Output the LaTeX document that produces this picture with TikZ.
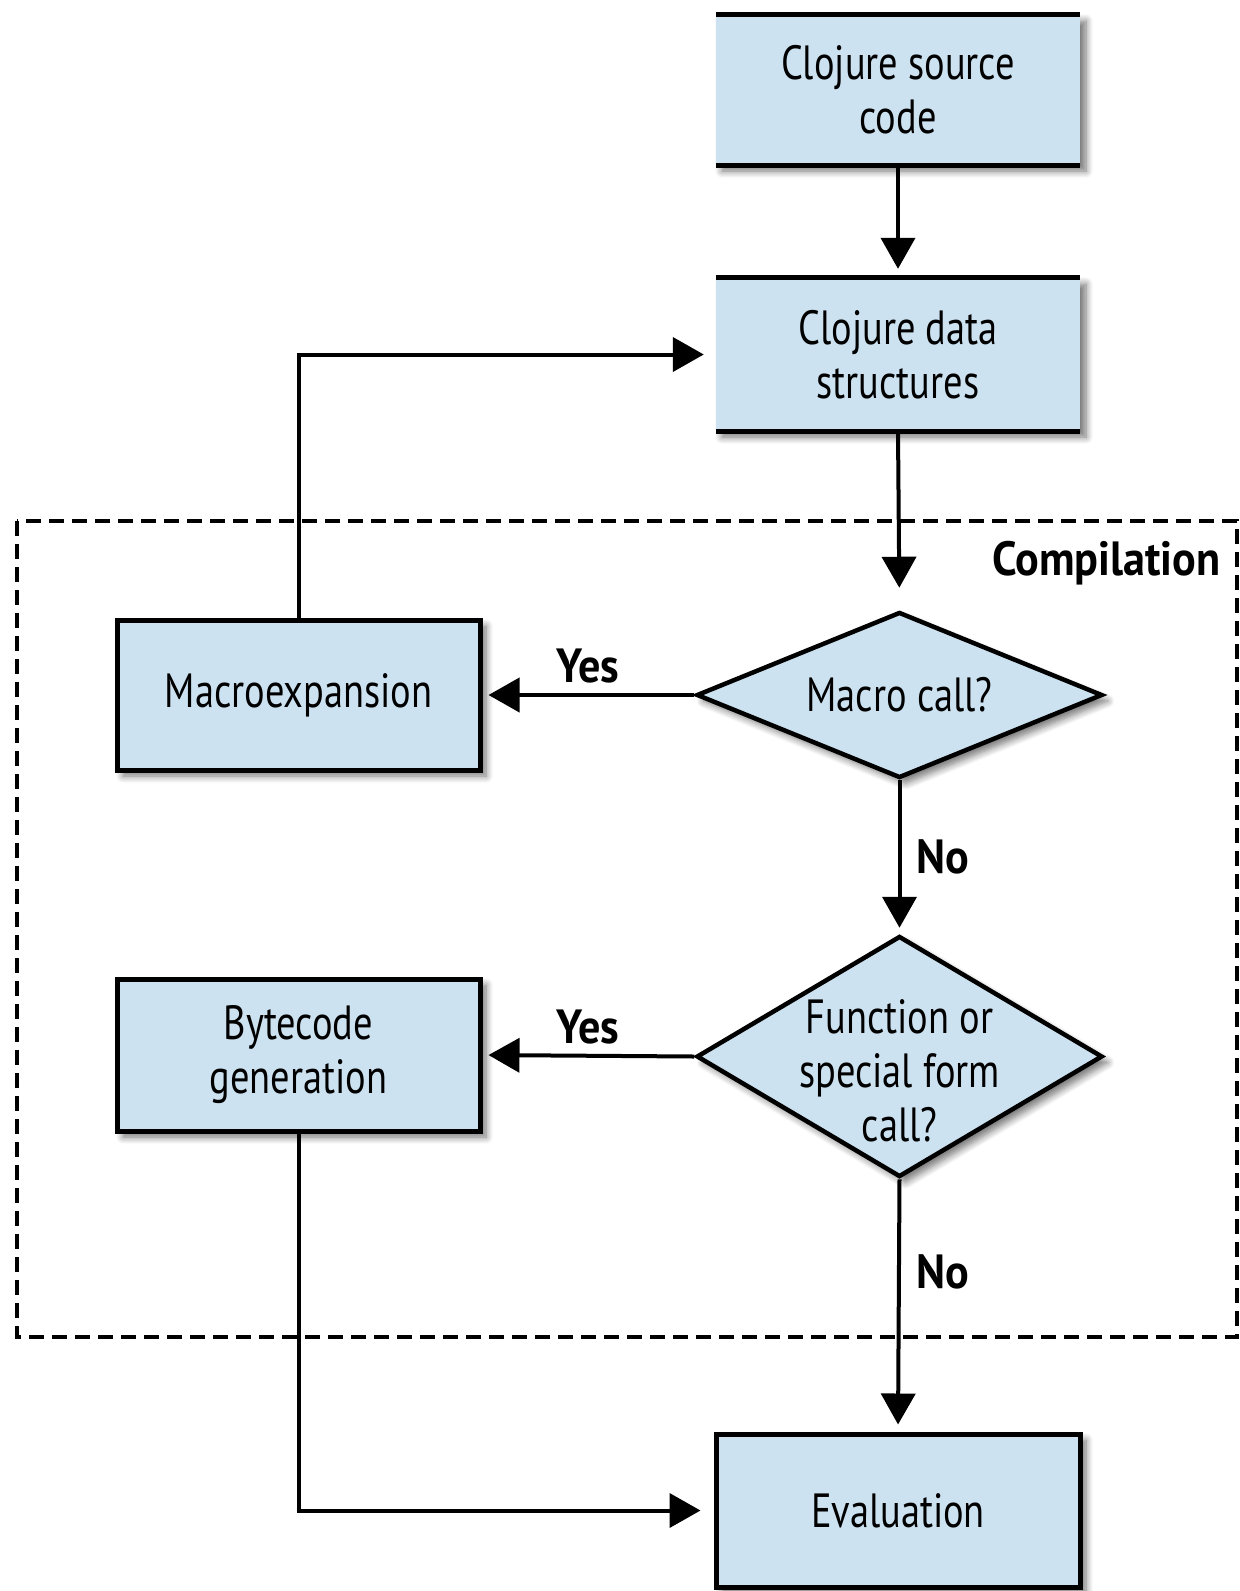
\documentclass[tikz,border=0pt]{standalone}
\usepackage{fontspec}
\setmainfont[FakeStretch=0.8]{PT Sans}
\newfontfamily\lblfont[FakeStretch=0.92]{PT Sans}
\usetikzlibrary{arrows.meta,shapes.geometric,shadows.blur}
\definecolor{boxblue}{RGB}{204,226,240}
\begin{document}
\begin{tikzpicture}[x=1pt,y=-1pt,
  txt/.style={font=\fontsize{48}{54}\selectfont, align=center},
  lbl/.style={font=\lblfont\bfseries\fontsize{48}{54}\selectfont},
  shadowed/.style={blur shadow={shadow xshift=6pt, shadow yshift=-6pt, shadow blur steps=8, shadow blur radius=7pt, shadow opacity=55}},
  openbox/.style={rectangle, fill=boxblue, shadowed, inner sep=0pt, minimum width=364pt},
  fullbox/.style={rectangle, fill=boxblue, draw=black, line width=5pt, shadowed, inner sep=0pt, minimum width=363pt},
  decision/.style={diamond, fill=boxblue, draw=black, line width=4.5pt, shadowed, inner sep=0pt, minimum width=406pt},
  edgeline/.style={line width=5pt},
  arr/.style={line width=4pt, -{Triangle[length=31pt,width=34pt]}},
  compbox/.style={line width=3.5pt, dash pattern=on 15pt off 8pt}
]
\useasboundingbox (0,0) rectangle (1240,1591);

% Compilation region
\draw[compbox] (17,521) rectangle (1237,1337);
\node[lbl, anchor=base east] (comp) at (1224,575) {Compilation};

% Top boxes (top and bottom rules only)
\node[openbox, minimum height=150pt] (src) at (898,90) {};
\node[txt] at (src) {Clojure source\\code};
\draw[edgeline] (src.north west) -- (src.north east);
\draw[edgeline] (src.south west) -- (src.south east);

\node[openbox, minimum height=153pt] (data) at (898,354.5) {};
\node[txt] at (data) {Clojure data\\structures};
\draw[edgeline] (data.north west) -- (data.north east);
\draw[edgeline] (data.south west) -- (data.south east);

% Decisions
\node[decision, minimum height=166pt] (d1) at (899.5,695) {};
\node[txt] at (d1) {Macro call?};
\node[decision, minimum height=241pt] (d2) at (899.5,1056.5) {};
\node[txt, yshift=-14pt] at (d2) {Function or\\special form\\call?};

% Left boxes
\node[fullbox, minimum height=150pt] (macro) at (298.5,695) {};
\node[txt] at (macro) {Macroexpansion};
\node[fullbox, minimum height=152pt] (byte) at (298.5,1055) {};
\node[txt] at (byte) {Bytecode\\generation};

% Evaluation
\node[fullbox, minimum height=153pt, minimum width=364pt] (eval) at (898,1510.5) {};
\node[txt] at (eval) {Evaluation};

% Connectors
\draw[arr, shorten >=9pt] (src.south) -- (data.north);
\draw[arr, shorten >=22pt] (data.south) -- (d1.north);
\draw[arr, shorten >=6pt] (d1.west) -- (macro.east);
\draw[arr, shorten >=6pt] (d1.south) -- (d2.north);
\draw[arr, shorten >=6pt] (d2.west) -- (byte.east);
\draw[arr, shorten >=7pt] (d2.south) -- (eval.north);
\draw[arr, shorten >=12pt] (macro.north) |- (data.west);
\draw[arr, shorten >=13pt] (byte.south) |- (eval.west);

% Edge labels
\node[lbl, anchor=base] (yes1) at (588,682) {Yes};
\node[lbl, anchor=base] (yes2) at (588,1043) {Yes};
\node[lbl, anchor=base west] (no1) at (913,873) {No};
\node[lbl, anchor=base west] (no2) at (913,1288) {No};
\end{tikzpicture}
\end{document}
